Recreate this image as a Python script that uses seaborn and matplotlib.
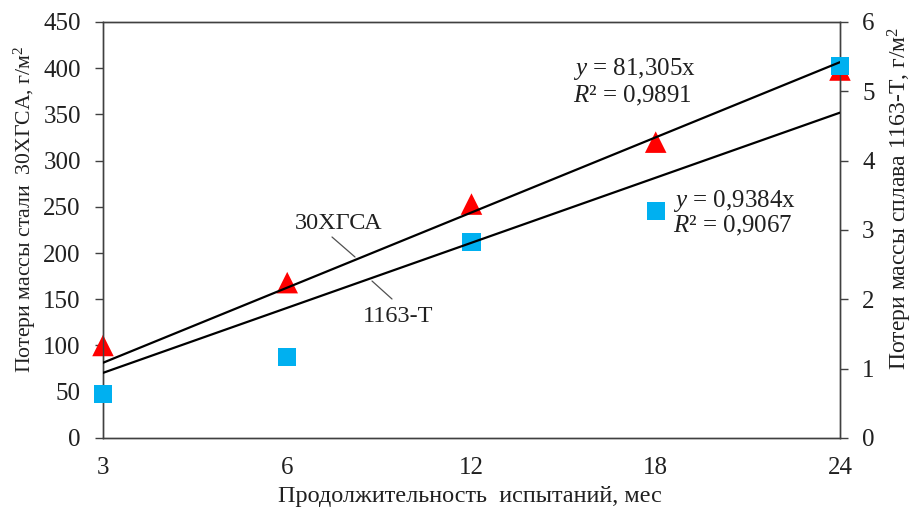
import matplotlib
matplotlib.use("Agg")
import matplotlib.pyplot as plt
import seaborn as sns
import numpy as np

sns.set_style("white")
plt.rcParams["font.family"] = ["Liberation Serif", "DejaVu Serif"]
plt.rcParams["mathtext.fontset"] = "custom"
plt.rcParams["mathtext.rm"] = "Liberation Serif"
plt.rcParams["mathtext.it"] = "Liberation Serif:italic"

months = ["3", "6", "12", "18", "24"]
pos = [1, 2, 3, 4, 5]
steel_loss = [100, 168, 253, 320, 398]          # 30ХГСА, g/m2 (left axis)
alloy_loss = [0.63, 1.17, 2.83, 3.27, 5.37]     # 1163-T, g/m2 (right axis)
k_steel = 81.305
k_alloy = 0.9384
r2_steel = "0,9891"
r2_alloy = "0,9067"

txt = "#202020"
fig = plt.figure(figsize=(9.13, 5.11), dpi=100)
ax = fig.add_axes([0.1128, 0.143, 0.8072, 0.814])
ax2 = ax.twinx()

sns.scatterplot(x=pos, y=steel_loss, ax=ax, marker="^", s=240, color="#FF0000",
                edgecolor="none", zorder=3, legend=False, clip_on=False)
sns.scatterplot(x=pos, y=alloy_loss, ax=ax2, marker="s", s=170, color="#00B0F0",
                edgecolor="none", zorder=3, legend=False, clip_on=False)

# trend lines through origin (x = category index)
xs = np.array([1, 5])
ax2.plot(xs, k_steel * xs, color="black", lw=1.6, transform=ax.transData, zorder=4)
ax2.plot(xs, k_alloy * xs, color="black", lw=1.6, zorder=4)

ax.set_xlim(1, 5)
ax.set_ylim(0, 450)
ax2.set_ylim(0, 6)
ax.set_xticks(pos)
ax.set_xticklabels(months)
ax.set_yticks(range(0, 451, 50))
ax2.set_yticks(range(0, 7))

for a in (ax, ax2):
    a.tick_params(direction="out", length=6, width=1, color="#404040",
                  labelsize=18, labelcolor=txt, pad=10)
    for s in a.spines.values():
        s.set_color("#404040")
        s.set_linewidth(1)
ax.tick_params(axis="x", pad=8)
ax.tick_params(axis="y", left=True)
ax2.tick_params(axis="y", right=True)

ax.set_xlabel("Продолжительность  испытаний, мес", fontsize=17.5, color=txt, va="center")
ax.set_ylabel("Потери массы стали  30ХГСА, г/м$^2$", fontsize=15.7, color=txt, va="center")
ax2.set_ylabel("Потери массы сплава 1163-Т, г/м$^2$", fontsize=17, color=txt, va="center")
ax.xaxis.set_label_coords(0.498, -0.142)
ax.yaxis.set_label_coords(-0.106, 0.55)
ax2.yaxis.set_label_coords(1.081, 0.577)

# series labels with leader lines
ff = "figure fraction"
fig.text(339 / 913, 1 - 223 / 511, "30ХГСА", fontsize=17.5, color=txt, ha="center", va="center")
fig.text(398 / 913, 1 - 316 / 511, "1163-T", fontsize=17.5, color=txt, ha="center", va="center")
ax.annotate("", xy=(355 / 913, 1 - 257 / 511), xycoords=ff,
            xytext=(332 / 913, 1 - 237 / 511), textcoords=ff,
            arrowprops=dict(arrowstyle="-", color="#505050", lw=0.9, shrinkA=0, shrinkB=0))
ax.annotate("", xy=(372 / 913, 1 - 281 / 511), xycoords=ff,
            xytext=(392 / 913, 1 - 299 / 511), textcoords=ff,
            arrowprops=dict(arrowstyle="-", color="#505050", lw=0.9, shrinkA=0, shrinkB=0))

fig.text(573 / 913, 1 - 69 / 511, "$y$ = 81,305x", fontsize=18, color=txt, va="center")
fig.text(573 / 913, 1 - 96 / 511, "$R$² = " + r2_steel, fontsize=18, color=txt, va="center")
fig.text(673 / 913, 1 - 201 / 511, "$y$ = 0,9384x", fontsize=18, color=txt, va="center")
fig.text(673 / 913, 1 - 226 / 511, "$R$² = " + r2_alloy, fontsize=18, color=txt, va="center")

fig.savefig("out.png", dpi=100)
